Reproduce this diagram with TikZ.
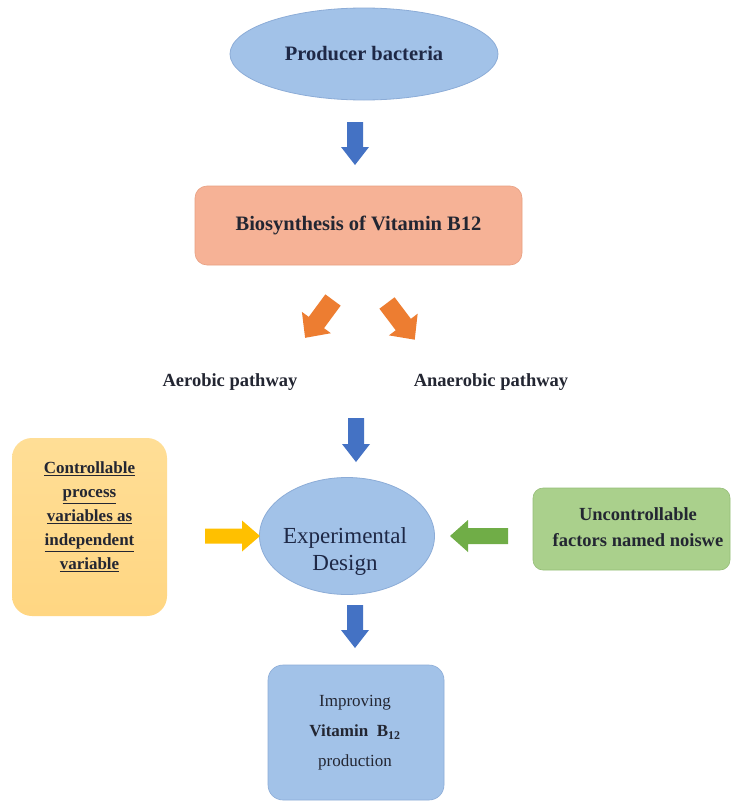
\documentclass[tikz,border=0pt]{standalone}
\usepackage{fontspec}
\setmainfont{Liberation Serif}
\usetikzlibrary{shapes.geometric}
\definecolor{ellFill}{RGB}{162,194,232}
\definecolor{ellLine}{RGB}{140,172,215}
\definecolor{bioFill}{RGB}{246,178,150}
\definecolor{bioLine}{RGB}{232,160,130}
\definecolor{ctrlFill}{RGB}{255,214,130}
\definecolor{ctrlTop}{RGB}{255,222,150}
\definecolor{noiseFill}{RGB}{170,208,140}
\definecolor{noiseLine}{RGB}{150,190,120}
\definecolor{arrBlue}{RGB}{68,114,196}
\definecolor{arrOrange}{RGB}{237,125,49}
\definecolor{arrYellow}{RGB}{255,192,0}
\definecolor{arrGreen}{RGB}{112,173,71}
\definecolor{txtDark}{RGB}{35,38,50}
\definecolor{txtNavy}{RGB}{30,40,70}
\tikzset{
  pics/blockarrow/.style args={#1/#2/#3/#4}{code={
    \fill (0,-#2/2) -- ({#1-#4},-#2/2) -- ({#1-#4},-#3/2) -- (#1,0)
      -- ({#1-#4},#3/2) -- ({#1-#4},#2/2) -- (0,#2/2) -- cycle;}},
  ellnode/.style={ellipse, fill=ellFill, draw=ellLine, line width=0.8pt, inner sep=0pt},
  plainlabel/.style={font=\fontsize{18.5}{22}\selectfont\bfseries, text=txtDark, inner sep=0pt},
}
\begin{document}
\begin{tikzpicture}[x=1pt,y=1pt]
\useasboundingbox (0,0) rectangle (732,-803);
\fill[white] (0,0) rectangle (732,-803);

% top ellipse
\node[ellnode, minimum width=268pt, minimum height=92pt,
  font=\fontsize{20.5}{24}\selectfont\bfseries, text=txtNavy] (prod) at (364,-54) {Producer bacteria};

% biosynthesis box
\node[rectangle, rounded corners=12pt, fill=bioFill, draw=bioLine, line width=0.6pt,
  minimum width=327pt, minimum height=79pt,
  font=\fontsize{20.5}{24}\selectfont\bfseries, text=txtDark] (bio) at (358.5,-225.5) {Biosynthesis of Vitamin B12};

% pathways
\node[plainlabel] (aer) at (230,-382) {Aerobic pathway};
\node[plainlabel] (anaer) at (491,-382) {Anaerobic pathway};

% experimental design ellipse
\node[ellnode, minimum width=175pt, minimum height=117pt] (exp) at (347,-536) {};
\node[font=\fontsize{23}{27}\selectfont, text=txtNavy, align=center, inner sep=0pt] (expt) at (345,-551) {Experimental\\Design};

% controllable box
\node[rectangle, rounded corners=20pt, top color=ctrlTop, bottom color=ctrlFill, draw=none,
  minimum width=155pt, minimum height=178pt] (ctrl) at (89.5,-527) {};
\node[font=\fontsize{17}{24}\selectfont\bfseries, text=txtDark, align=center, inner sep=0pt] (ctrlt) at (89.5,-517)
  {\underline{Controllable}\\\underline{process}\\\underline{variables as}\\\underline{independent}\\\underline{variable}};

% noise box
\node[rectangle, rounded corners=10pt, fill=noiseFill, draw=noiseLine, line width=0.6pt,
  minimum width=197pt, minimum height=82pt] (noise) at (631.5,-529) {};
\node[font=\fontsize{18.5}{26}\selectfont\bfseries, text=txtDark, align=center, inner sep=0pt] (noiset) at (638,-527)
  {Uncontrollable\\factors named noiswe};

% improving box
\node[rectangle, rounded corners=15pt, fill=ellFill, draw=ellLine, line width=0.6pt,
  minimum width=176pt, minimum height=135pt] (impr) at (356,-732.5) {};
\node[font=\fontsize{17}{30}\selectfont, text=txtDark, align=center, inner sep=0pt] (imprt) at (355,-733)
  {Improving\\{\bfseries Vitamin\ \ B\textsubscript{12}}\\production};

% block arrows
\pic[color=arrBlue, rotate=-90] (a1) at (355,-122) {blockarrow={43/16/28/18}};
\pic[color=arrOrange, rotate=-126.4] (a2) at (333,-300) {blockarrow={47/19/36/19}};
\pic[color=arrOrange, rotate=-52.9] (a3) at (387,-303) {blockarrow={46/19/36/19}};
\pic[color=arrBlue, rotate=-90] (a4) at (356,-418) {blockarrow={44/16/28/18}};
\pic[color=arrYellow] (a5) at (205,-536) {blockarrow={55/15/31/18}};
\pic[color=arrGreen, rotate=180] (a6) at (508,-536) {blockarrow={58/16/32/18}};
\pic[color=arrBlue, rotate=-90] (a7) at (355,-605) {blockarrow={43/16/28/18}};
\end{tikzpicture}
\end{document}
